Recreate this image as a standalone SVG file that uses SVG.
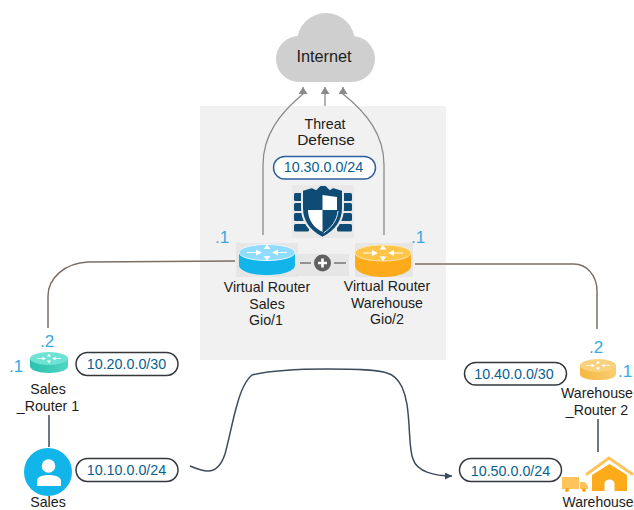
<svg xmlns="http://www.w3.org/2000/svg" width="634" height="510" viewBox="0 0 634 510">
<style>
text{font-family:"Liberation Sans",Arial,sans-serif;fill:#1c1c1c;font-size:14.200px;text-anchor:middle}
.ip{fill:#0a5f90;font-size:14.300px}
.dot{fill:#3aa9e0;font-size:17px}
.pill{fill:#fff;stroke:#34383d;stroke-width:1.500}
.up{fill:none;stroke:#8a8a8a;stroke-width:1.300;marker-end:url(#ga)}
.br{fill:none;stroke:#7b6f66;stroke-width:1.500}
.dk{fill:none;stroke:#3d4a5c;stroke-width:1.500}
.ra{fill:none;stroke:#fff;stroke-width:1.200}
.rh{fill:#fff}
.brick{fill:#0f4c75}
</style>
<defs>
<marker id="ga" markerUnits="userSpaceOnUse" markerWidth="9" markerHeight="10" refX="7" refY="4.500" orient="auto"><path d="M0 0L7 4.500L0 9Z" fill="#8a8a8a"/></marker>
<marker id="da" markerUnits="userSpaceOnUse" markerWidth="8" markerHeight="8" refX="7" refY="3.500" orient="auto"><path d="M0 0L7 3.500L0 7Z" fill="#3d4a5c"/></marker>
<linearGradient id="teal" x1="0" x2="1" y1="0" y2="0"><stop offset="0" stop-color="#2bc0ae"/><stop offset="1" stop-color="#4fd6c4"/></linearGradient>
<linearGradient id="gold" x1="0" x2="1" y1="0" y2="0"><stop offset="0" stop-color="#f5b840"/><stop offset="1" stop-color="#f9cd72"/></linearGradient>
<g id="rarrows">
<path class="ra" d="M-20 0H-11M20 0H11M0 -6.500V-3.500M0 6.500V3.500"/>
<path class="rh" d="M-11 -3L-5 0L-11 3ZM11 -3L5 0L11 3ZM-3.500 -3.500L0 -8L3.500 -3.500ZM-3.500 3.500L0 8L3.500 3.500Z"/>
</g>
</defs>

<rect id="panel" x="200" y="106" width="246" height="254" fill="#f1f1f1"/>

<g id="connectors">
<path class="up" d="M263 235V165C263 135 280 113 303 94V87"/>
<path class="up" d="M325 106V87"/>
<path class="up" d="M384 235V165C384 135 367 113 343 94V87"/>
<path class="br" d="M235 261L88 262C65 263 48 278 48 296V328"/>
<path class="br" d="M415 264H574C587 264 597 276 597 291V329"/>
<path class="dk" d="M49 415V447"/>
<path class="dk" d="M598 419V452"/>
<path class="dk" style="marker-end:url(#da)" d="M190 466C197 469 203 471 208 471C217 471 222 463 225 454C229 440 233 418 237 405C241 390 246 380 252 375C268 371 300 369 327 369C350 369 375 369 387 373C395 375 399 381 402 387C407 398 408 410 409 425C410 440 410 452 413 459C417 472 435 476 452 476"/>
</g>

<g id="internet">
<g fill="#cfcfcf"><circle cx="299" cy="59" r="23"/><circle cx="352" cy="59" r="23"/><circle cx="326" cy="42" r="29"/><rect x="299" y="42" width="53" height="40"/></g>
<text x="324" y="62" style="font-size:16.300px">Internet</text>
</g>

<g id="threat-defense">
<text x="325" y="129">Threat</text>
<text x="326" y="145" style="font-size:15.500px">Defense</text>
<rect x="292" y="185" width="62" height="53" fill="#e9e9e9"/>
<rect class="brick" x="294" y="193" width="10" height="8" rx="1.500"/><rect class="brick" x="294" y="203" width="10" height="8" rx="1.500"/><rect class="brick" x="294" y="213" width="12" height="8" rx="1.500"/><rect class="brick" x="294" y="224" width="15" height="7.500" rx="1.500"/>
<rect class="brick" x="342" y="193" width="10" height="8" rx="1.500"/><rect class="brick" x="342" y="203" width="10" height="8" rx="1.500"/><rect class="brick" x="340" y="213" width="12" height="8" rx="1.500"/><rect class="brick" x="337" y="224" width="15" height="7.500" rx="1.500"/>
<path fill="#0f4c75" stroke="#e9e9e9" stroke-width="2" d="M302 190L312 187L316 189L320 185L326 185L330 189L333 187L343 190V208C343 222 334 232 322.500 238C311 232 302 222 302 208Z"/>
<path fill="#fff" d="M322.500 195L337 197V210H322.500ZM308 210H322.500V232C314 228 308 220 308 210Z"/>
<path fill="none" stroke="#dfe8ee" stroke-width="1" d="M338 211C337 221 331 228 323.500 233"/>
</g>

<g id="vr-sales">
<rect x="236" y="243" width="62" height="34" fill="#e6e6e6"/>
<path fill="#12b5ea" d="M239 253V265C239 271 251 275 267 275C283 275 295 271 295 265V253Z"/>
<ellipse cx="267" cy="252.500" rx="28" ry="8" fill="#8fdcff" stroke="#e8f7fd" stroke-width="1"/>
<use href="#rarrows" x="267" y="252.500"/>
<text x="267" y="292">Virtual Router</text><text x="267" y="309">Sales</text><text x="266" y="325">Gio/1</text>
<text class="dot" x="222" y="243">.1</text>
</g>

<g id="ha-link">
<rect x="298" y="254" width="51" height="22" fill="#e6e6e6"/>
<path d="M300 263H311M334 263H346" stroke="#777" stroke-width="1.500"/>
<circle cx="322.500" cy="263" r="8.500" fill="#606060"/>
<path d="M318 263H327M322.500 258.500V267.500" stroke="#fff" stroke-width="2.600"/>
</g>

<g id="vr-warehouse">
<rect x="355" y="243" width="58" height="34" fill="#e6e6e6"/>
<path fill="#fdaa1b" d="M355 253V266C355 272 367 277 383 277C399 277 411 272 411 266V253Z"/>
<ellipse cx="383" cy="253" rx="28" ry="8" fill="#ffc548" stroke="#fde6b0" stroke-width="1"/>
<use href="#rarrows" x="383" y="253"/>
<text x="387" y="291">Virtual Router</text><text x="387" y="308">Warehouse</text><text x="387" y="324">Gio/2</text>
<text class="dot" x="418" y="243">.1</text>
</g>

<g id="net-30"><rect class="pill" x="273.500" y="156.500" width="102" height="22.500" rx="11.200" style="stroke:#2f5f9e"/><text class="ip" x="323.500" y="172">10.30.0.0/24</text></g>
<g id="net-20"><rect class="pill" x="76" y="352.500" width="102" height="23" rx="11.500"/><text class="ip" x="126.500" y="369">10.20.0.0/30</text></g>
<g id="net-10"><rect class="pill" x="76" y="458.500" width="102" height="23" rx="11.500"/><text class="ip" x="126.500" y="475">10.10.0.0/24</text></g>
<g id="net-40"><rect class="pill" x="464.500" y="362.500" width="102" height="22.500" rx="11.200"/><text class="ip" x="514" y="379">10.40.0.0/30</text></g>
<g id="net-50"><rect class="pill" x="459.500" y="458.500" width="102" height="23" rx="11.500"/><text class="ip" x="510.500" y="476">10.50.0.0/24</text></g>

<g id="sales-router">
<path fill="url(#teal)" d="M30 359V366C30 370 38 373 49 373C60 373 68 370 68 366V359Z"/>
<ellipse cx="49" cy="358.500" rx="19" ry="6.500" fill="#6fe3d3"/>
<use href="#rarrows" transform="translate(49 358.500) scale(.6)"/>
<text class="dot" x="47" y="347">.2</text><text class="dot" x="16" y="372">.1</text>
<text x="48" y="394">Sales</text><text x="48" y="411">_Router 1</text>
</g>

<g id="sales">
<circle cx="48" cy="472" r="24" fill="#12b5ea"/>
<circle cx="48.500" cy="466" r="6.800" fill="#fff"/>
<path fill="#fff" d="M37 486V481C37 477 42 475 48.500 475C55 475 61 477 61 481V486Z"/>
<text x="48" y="507">Sales</text>
</g>

<g id="warehouse-router">
<path fill="url(#gold)" d="M580 366V374C580 378 588 380 598 380C608 380 616 378 616 374V366Z"/>
<ellipse cx="598" cy="365.500" rx="18" ry="6.500" fill="#fad27e"/>
<use href="#rarrows" transform="translate(598 365.500) scale(.6)"/>
<text class="dot" x="596" y="353">.2</text><text class="dot" x="625" y="377">.1</text>
<text x="597" y="398">Warehouse</text><text x="597" y="415">_Router 2</text>
</g>

<g id="warehouse">
<path fill="#ffc35c" d="M562 477H579V489H562ZM580 482H585L588 486V489H580Z"/>
<circle cx="567" cy="490" r="2" fill="#f9a51a"/><circle cx="584" cy="490" r="2" fill="#f9a51a"/>
<path fill="none" stroke="#ffc35c" stroke-width="3" stroke-linecap="round" d="M587 474L609 458L632 474"/>
<path fill="#fdaa1b" d="M592 475L609.500 464L627 475V491H614.500V484C614.500 481 612 479.500 609.500 479.500C607 479.500 604.500 481 604.500 484V491H592Z"/>
<text x="598" y="507" style="font-size:14px">Warehouse</text>
</g>
</svg>
